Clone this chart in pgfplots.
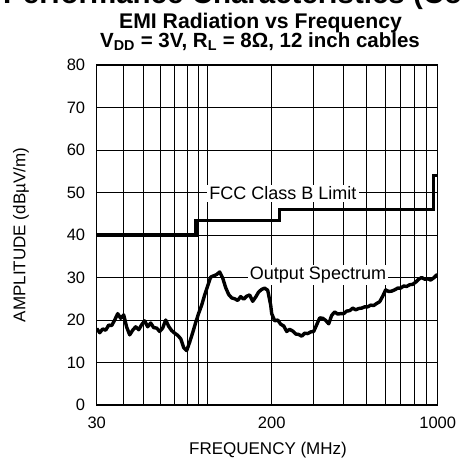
\documentclass[border=0pt]{standalone}
\usepackage{pgfplots}
\pgfplotsset{compat=1.18}
\usepackage{fontspec}
\setmainfont{Liberation Sans}

\pgfplotstableread{
f dB
30.00 18.0
30.99 17.0
32.02 17.9
33.07 17.6
34.17 18.8
35.30 18.7
36.46 20.0
37.67 21.5
38.91 20.4
40.20 21.2
41.53 18.3
42.90 16.5
44.32 17.6
45.78 18.4
47.30 17.7
48.86 18.9
50.47 19.8
52.14 18.4
53.87 19.3
55.65 18.2
57.49 18.1
59.39 17.3
61.35 18.1
63.38 20.0
65.47 18.5
67.64 17.5
69.87 16.9
72.18 16.4
74.57 15.6
77.03 13.5
79.58 12.8
82.21 14.8
84.92 17.0
87.73 19.4
90.63 21.6
93.63 23.5
96.72 25.9
99.92 28.0
103.22 30.1
106.63 30.4
110.16 30.7
113.80 31.3
117.56 29.9
121.45 27.6
125.46 26.0
129.61 25.2
133.89 25.0
138.32 24.6
142.89 25.5
147.61 24.9
152.49 25.6
157.53 25.9
162.74 24.4
168.12 25.4
173.68 26.6
179.42 27.2
185.35 27.5
191.48 27.0
197.81 23.5
200.0 21.5
205.9 19.8
212.0 20.0
218.2 19.0
224.7 18.6
231.3 17.3
238.1 17.8
245.2 17.4
252.4 16.7
259.9 16.6
267.5 16.2
275.4 16.9
283.6 16.8
291.9 17.2
300.5 17.3
309.4 18.9
318.6 20.5
328.0 20.4
337.6 19.9
347.6 19.1
357.9 21.1
368.4 21.9
379.3 21.4
390.5 21.5
402.0 21.5
413.9 22.1
426.1 22.2
438.7 22.8
451.6 22.4
464.9 22.7
478.7 22.8
492.8 23.1
507.3 23.1
522.3 23.5
537.7 23.4
553.6 23.9
569.9 24.3
586.7 25.6
604.0 27.1
621.8 26.7
640.2 26.8
659.1 27.1
678.5 27.5
698.5 27.5
719.1 28.0
740.3 27.9
762.2 28.3
784.7 28.4
807.8 28.9
831.7 29.6
856.2 30.0
881.4 29.6
907.4 29.7
934.2 29.4
961.8 29.9
990.2 30.6
1000 30.3
}\spectrum

\pgfplotstableread{
f dB
30 40
88 40
88 43.5
216 43.5
216 46
960 46
960 54
1000 54
}\fcclimit

\begin{document}
\begin{tikzpicture}[x=1pt,y=1pt]
\useasboundingbox (0pt,0pt) rectangle (460pt,475pt);
\node[anchor=base west, font=\bfseries\fontsize{29.5}{32}\selectfont, inner sep=0] at (3pt,471pt) {Performance Characteristics (Continued)};
\node[anchor=base, font=\bfseries\fontsize{21.2}{23}\selectfont, inner sep=0] at (260.5pt,446.7pt) {EMI Radiation vs Frequency};
\node[anchor=base, font=\bfseries\fontsize{20.5}{22}\selectfont, inner sep=0] at (260pt,427.3pt) {V\textsubscript{DD} = 3V, R\textsubscript{L} = 8Ω, 12 inch cables};
\begin{axis}[
  at={(96.7pt,70pt)}, anchor=south west,
  scale only axis, width=341pt, height=340pt,
  x coord trafo/.code={%
    \begingroup
    \pgfkeys{/pgf/fpu=true,/pgf/fpu/output format=fixed}%
    \pgfmathparse{(#1<=200)*(ln(#1/30)*175/ln(200/30)) + (#1>200)*(175+ln(#1/200)*166/ln(5))}%
    \xdef\mytrafores{\pgfmathresult}%
    \endgroup
    \let\pgfmathresult\mytrafores
  },
  xmin=30, xmax=1000, ymin=0, ymax=80,
  xtick={30,40,50,60,70,80,90,100,200,300,400,500,600,700,800,900,1000},
  xticklabels={30,,,,,,,,200,,,,,,,,1000},
  ytick={0,10,20,30,40,50,60,70,80},
  grid=major, major grid style={black, line width=1pt},
  major tick length=0pt,
  axis line style={line width=1.5pt},
  tick label style={font=\fontsize{16.5}{18}\selectfont},
  xticklabel style={yshift=-8pt},
  yticklabel style={xshift=-8pt},
  /pgf/number format/assume math mode=true,
]
\addplot[black, line width=3.2pt, line join=miter] table[x=f,y=dB] {\fcclimit};
\addplot[black, line width=3.4pt, line join=round] table[x=f,y=dB] {\spectrum};
\end{axis}
\node[anchor=base, fill=white, inner sep=2pt, font=\fontsize{18}{20}\selectfont] at (283pt,275pt) {FCC Class B Limit};
\node[anchor=base, fill=white, inner sep=2pt, font=\fontsize{18}{20}\selectfont] at (318pt,195.7pt) {Output Spectrum};
\node[rotate=90, font=\fontsize{17}{19}\selectfont] at (21pt,240pt) {AMPLITUDE (dBµV/m)};
\node[anchor=base, font=\fontsize{17}{19}\selectfont] at (268pt,20pt) {FREQUENCY (MHz)};
\end{tikzpicture}
\end{document}
